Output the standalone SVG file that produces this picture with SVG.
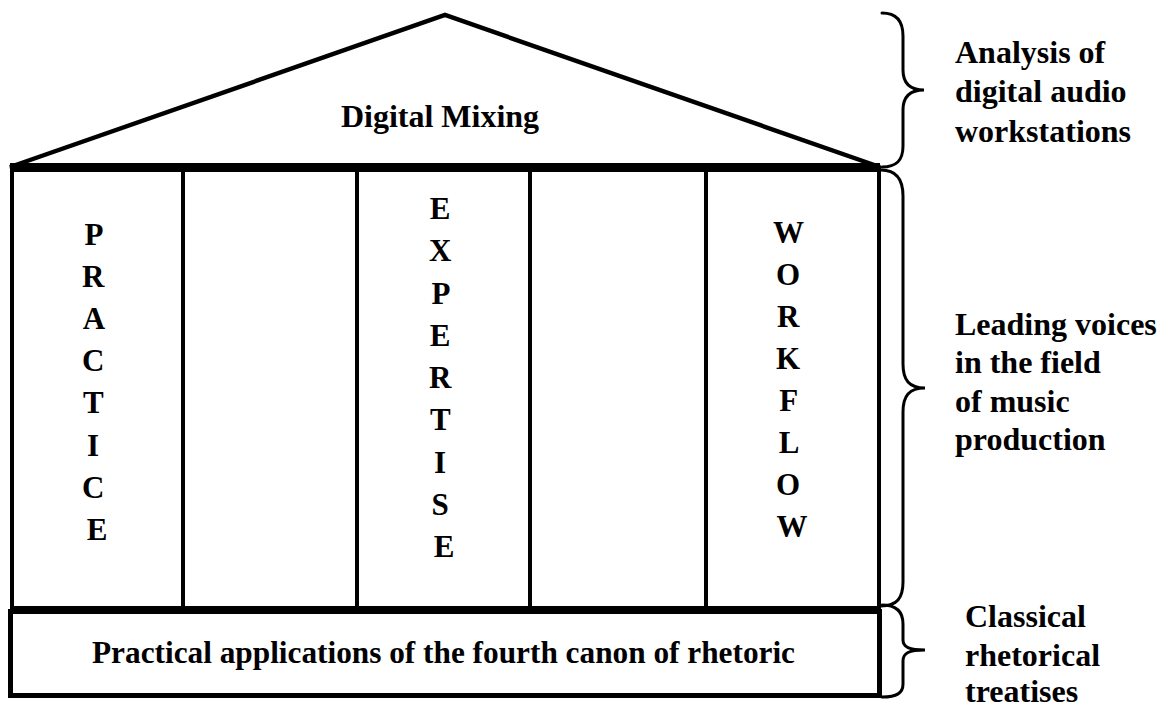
<svg xmlns="http://www.w3.org/2000/svg" width="1161" height="708" viewBox="0 0 1161 708">
  <style>
    .txt { font-family: "Liberation Serif", "Times New Roman", serif; font-weight: bold; fill: #000; }
    .big { font-size: 32px; }
    .col { font-size: 31px; text-anchor: middle; }
    .line { fill: none; stroke: #000; stroke-width: 4; }
    .brace { fill: none; stroke: #000; stroke-width: 3; stroke-linecap: round; }
  </style>
  <rect width="1161" height="708" fill="#fff"/>

  <!-- roof / pediment -->
  <g id="roof">
    <polygon points="10,167 445,15 880,167" fill="#fff" stroke="#000" stroke-width="4.5" stroke-linejoin="miter"/>
    <text class="txt big" x="440" y="127" text-anchor="middle">Digital Mixing</text>
  </g>

  <!-- columns -->
  <g id="col-practice">
    <rect x="12" y="168" width="171" height="440" fill="#fff" class="line"/>
    <text class="txt col" x="97">
      <tspan x="97" y="245">P</tspan>
      <tspan x="97" y="287">R</tspan>
      <tspan x="97" y="329">A</tspan>
      <tspan x="97" y="371">C</tspan>
      <tspan x="97" y="413">T</tspan>
      <tspan x="97" y="456">I</tspan>
      <tspan x="97" y="498">C</tspan>
      <tspan x="97" y="540">E</tspan>
    </text>
  </g>
  <g id="col-gap1">
    <rect x="183" y="168" width="174" height="440" fill="#fff" class="line"/>
  </g>
  <g id="col-expertise">
    <rect x="357" y="168" width="173" height="440" fill="#fff" class="line"/>
    <text class="txt col" x="444">
      <tspan x="444" y="219">E</tspan>
      <tspan x="444" y="261">X</tspan>
      <tspan x="444" y="304">P</tspan>
      <tspan x="444" y="346">E</tspan>
      <tspan x="444" y="388">R</tspan>
      <tspan x="444" y="430">T</tspan>
      <tspan x="444" y="473">I</tspan>
      <tspan x="444" y="515">S</tspan>
      <tspan x="444" y="557">E</tspan>
    </text>
  </g>
  <g id="col-gap2">
    <rect x="530" y="168" width="176" height="440" fill="#fff" class="line"/>
  </g>
  <g id="col-workflow">
    <rect x="706" y="168" width="173" height="440" fill="#fff" class="line"/>
    <text class="txt col" x="792">
      <tspan x="792" y="243">W</tspan>
      <tspan x="792" y="285">O</tspan>
      <tspan x="792" y="327">R</tspan>
      <tspan x="792" y="369">K</tspan>
      <tspan x="792" y="411">F</tspan>
      <tspan x="792" y="453">L</tspan>
      <tspan x="792" y="495">O</tspan>
      <tspan x="792" y="537">W</tspan>
    </text>
  </g>

  <!-- architrave beam -->
  <g id="beam">
    <rect x="10" y="163" width="870" height="9" fill="#000"/>
  </g>

  <!-- foundation -->
  <g id="base">
    <rect x="10.5" y="611.5" width="869" height="84" fill="#fff" stroke="#000" stroke-width="5"/>
    <text class="txt" x="92" y="663" font-size="31" textLength="703" lengthAdjust="spacingAndGlyphs">Practical applications of the fourth canon of rhetoric</text>
  </g>

  <!-- braces grouping the levels -->
  <g id="connectors">
    <path class="brace" d="M882,13 C897,13 903,22 903,36 L903,70 C903,82 909,90 924,90 C909,90 903,98 903,110 L903,146 C903,160 897,167 882,167"/>
    <path class="brace" d="M881,170 C897,170 903,180 903,196 L903,364 C903,380 909,388 925,388 C909,388 903,396 903,412 L903,582 C903,598 897,606 881,606"/>
    <path class="brace" d="M882,605 C897,605 903,612 903,624 L903,640 C903,647 909,650 925,650 C909,650 903,653 903,661 L903,684 C903,693 897,697 882,697"/>
  </g>

  <!-- side labels -->
  <g id="label-top">
    <text class="txt big" x="955">
      <tspan x="955" y="63">Analysis of</tspan>
      <tspan x="955" y="102">digital audio</tspan>
      <tspan x="955" y="142">workstations</tspan>
    </text>
  </g>
  <g id="label-middle">
    <text class="txt big" x="955">
      <tspan x="955" y="335">Leading voices</tspan>
      <tspan x="955" y="373">in the field</tspan>
      <tspan x="955" y="412">of music</tspan>
      <tspan x="955" y="450">production</tspan>
    </text>
  </g>
  <g id="label-bottom">
    <text class="txt big" x="965">
      <tspan x="965" y="627">Classical</tspan>
      <tspan x="965" y="666">rhetorical</tspan>
      <tspan x="965" y="702">treatises</tspan>
    </text>
  </g>
</svg>
